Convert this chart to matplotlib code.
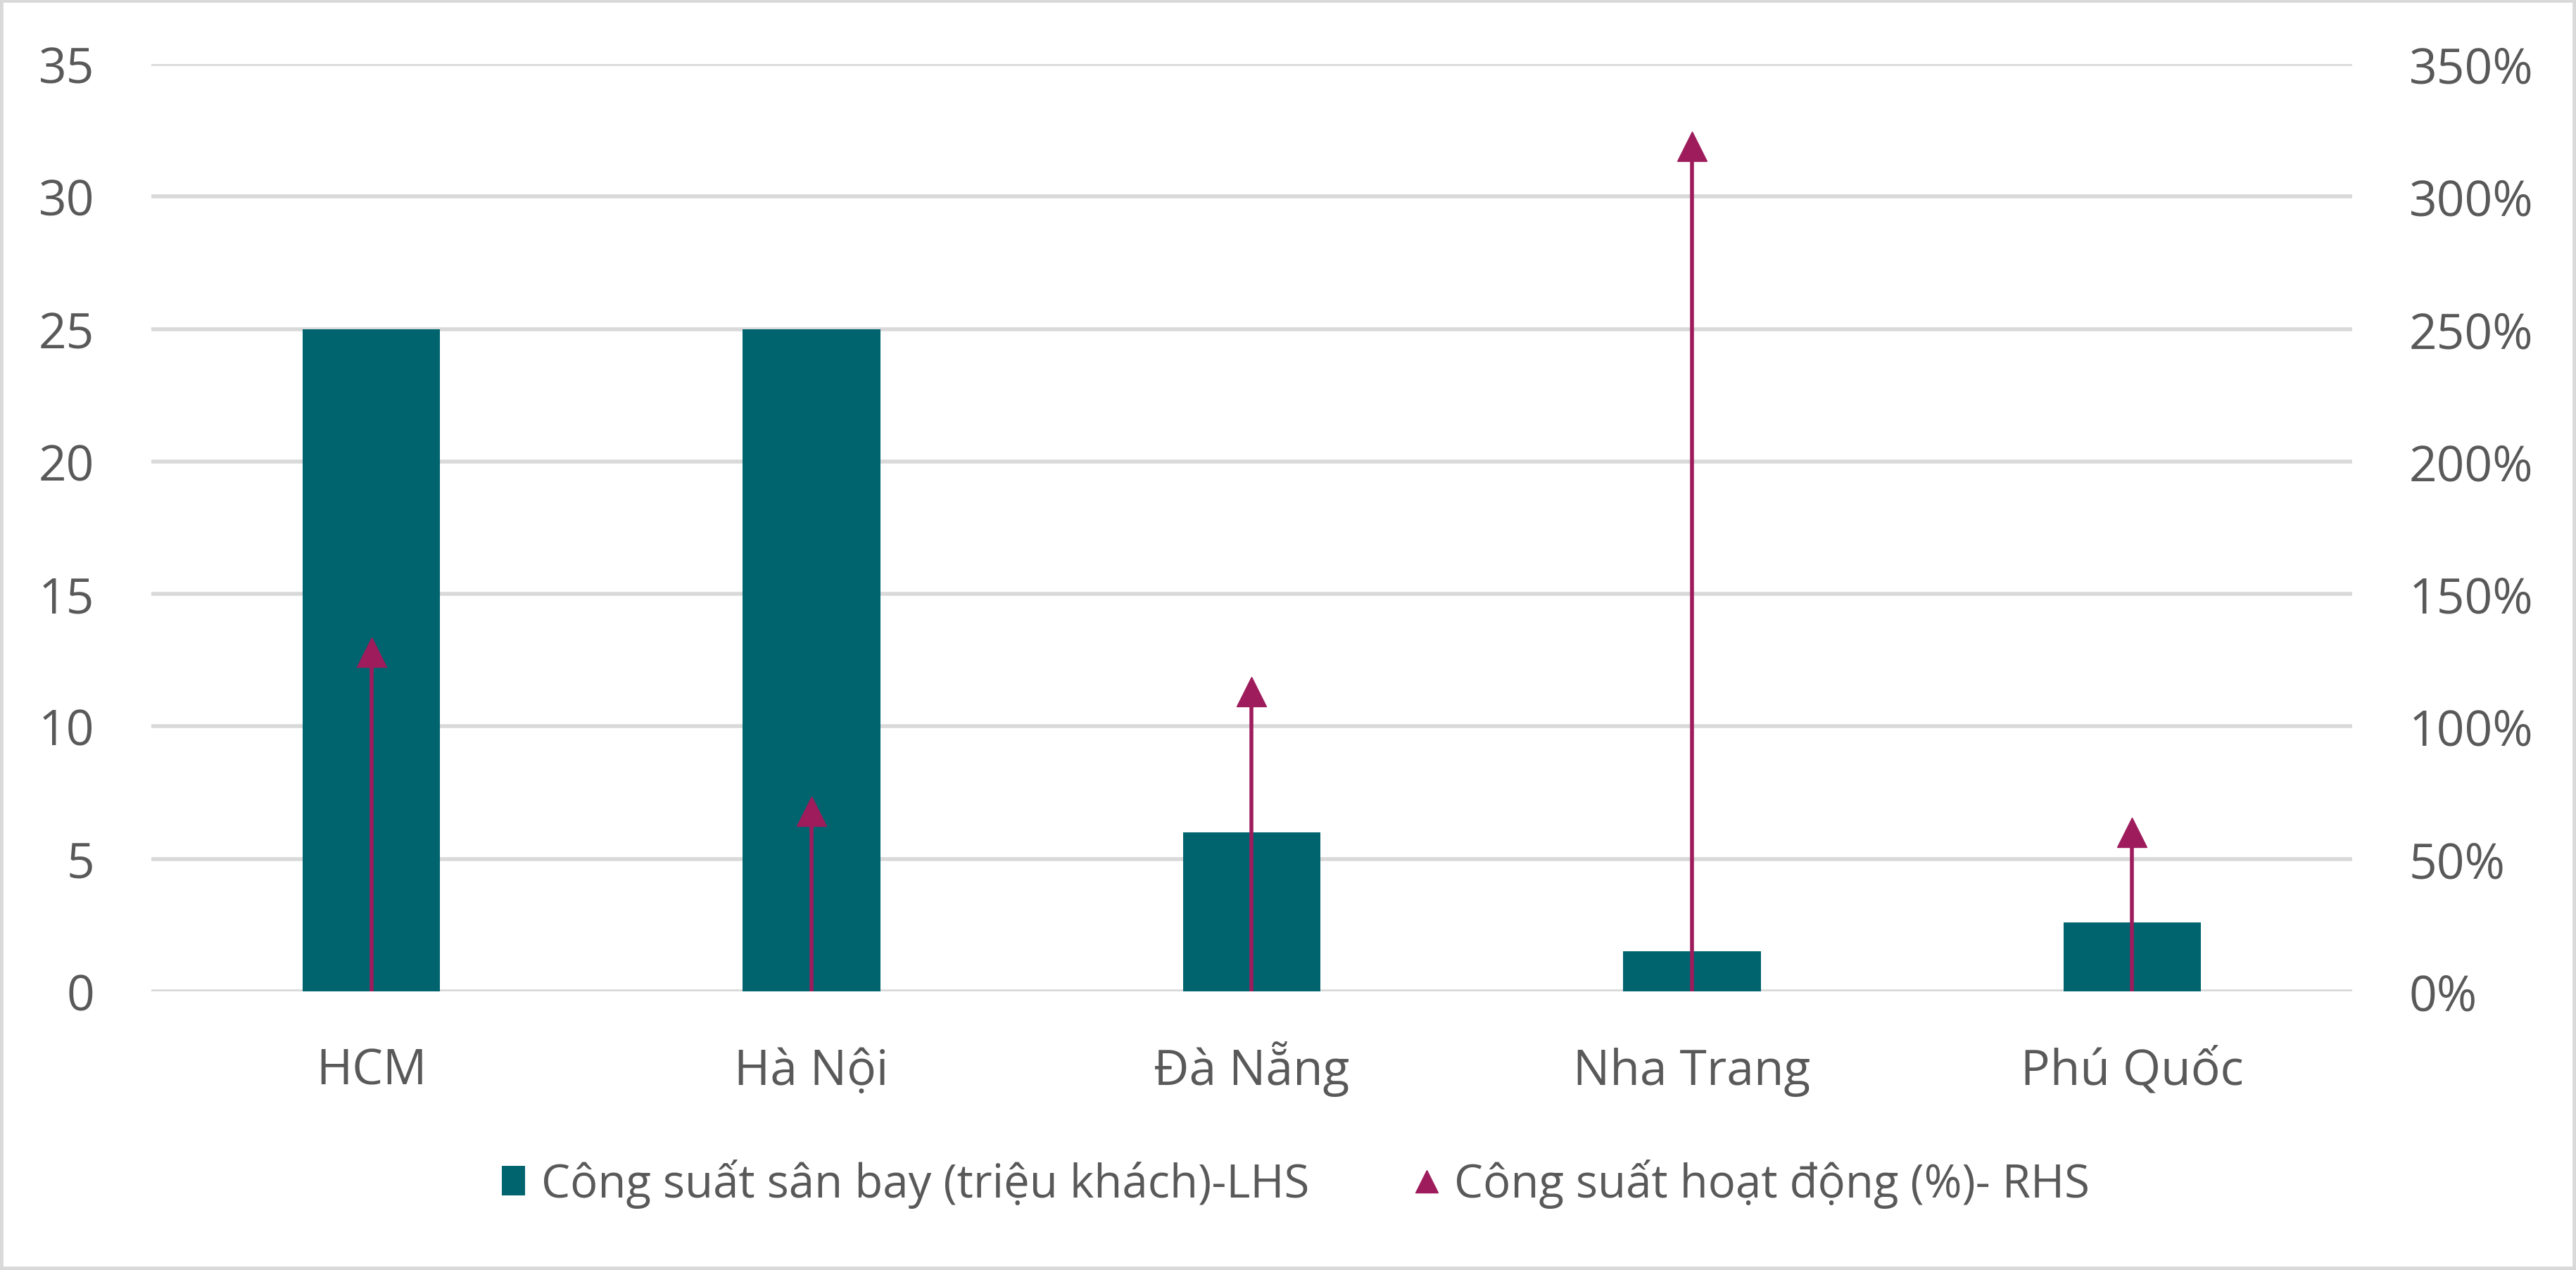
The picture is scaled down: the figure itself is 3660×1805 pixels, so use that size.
import matplotlib
matplotlib.use("Agg")
import matplotlib.pyplot as plt
from matplotlib.patches import Patch, Rectangle
from matplotlib.lines import Line2D
from matplotlib.ticker import FuncFormatter

plt.rcParams['font.family'] = ['Open Sans', 'DejaVu Sans']

#%% data
airports = ["HCM", "Hà Nội", "Đà Nẵng", "Nha Trang", "Phú Quốc"]
capacity = [25, 25, 6, 1.5, 2.6]            # triệu khách (LHS)
utilization = [1.28, 0.68, 1.13, 3.19, 0.60]  # % (RHS)
left_ticks = [0, 5, 10, 15, 20, 25, 30, 35]
right_ticks = [0, 0.5, 1.0, 1.5, 2.0, 2.5, 3.0, 3.5]
bar_label = "Công suất sân bay (triệu khách)-LHS"
line_label = "Công suất hoạt động (%)- RHS"

teal = "#00646F"
berry = "#9E1C5C"
grey_txt = "#595959"
grid_c = "#D9D9D9"
fs = 50

#%% plot
fig = plt.figure(figsize=(36.6, 18.06), dpi=100)
ax = fig.add_axes([0.0587, 0.2193, 0.8544, 0.7298])
ax2 = ax.twinx()

x = range(len(airports))
ax.bar(x, capacity, width=0.3125, color=teal, zorder=2)
ax.set_xlim(-0.5, len(airports) - 0.5)
ax.set_ylim(0, 35)
ax.set_yticks(left_ticks)
ax.set_xticks(list(x))
ax.set_xticklabels(airports, va="baseline")
ax.set_axisbelow(True)
ax.grid(axis="y", color=grid_c, linewidth=4)

ax2.vlines(x, 0, utilization, color=berry, linewidth=4, zorder=3)
ax2.plot(x, utilization, linestyle="none", marker="^", markersize=30,
         color=berry, zorder=4)
ax2.set_ylim(0, 3.5)
ax2.set_yticks(right_ticks)
ax2.yaxis.set_major_formatter(FuncFormatter(lambda v, p: f"{v*100:.0f}%"))

for a in (ax, ax2):
    for s in a.spines.values():
        s.set_visible(False)
    a.tick_params(length=0, labelsize=fs, labelcolor=grey_txt)
ax.tick_params(axis="y", pad=58)
ax2.tick_params(axis="y", pad=58)
ax.tick_params(axis="x", pad=95)

handles = [Patch(facecolor=teal, edgecolor="none"),
           Line2D([], [], linestyle="none", marker="^", markersize=23, color=berry)]
fig.legend(handles, [bar_label, line_label], loc="center", ncol=2,
           bbox_to_anchor=(0.503, 0.068), frameon=False, fontsize=47,
           labelcolor=grey_txt, handlelength=0.5, handleheight=0.6,
           handletextpad=0.35, columnspacing=2.3)

fig.add_artist(Rectangle((0, 0), 1, 1, transform=fig.transFigure, fill=False,
                         edgecolor=grid_c, linewidth=7))

fig.savefig("out.png", dpi=100)
